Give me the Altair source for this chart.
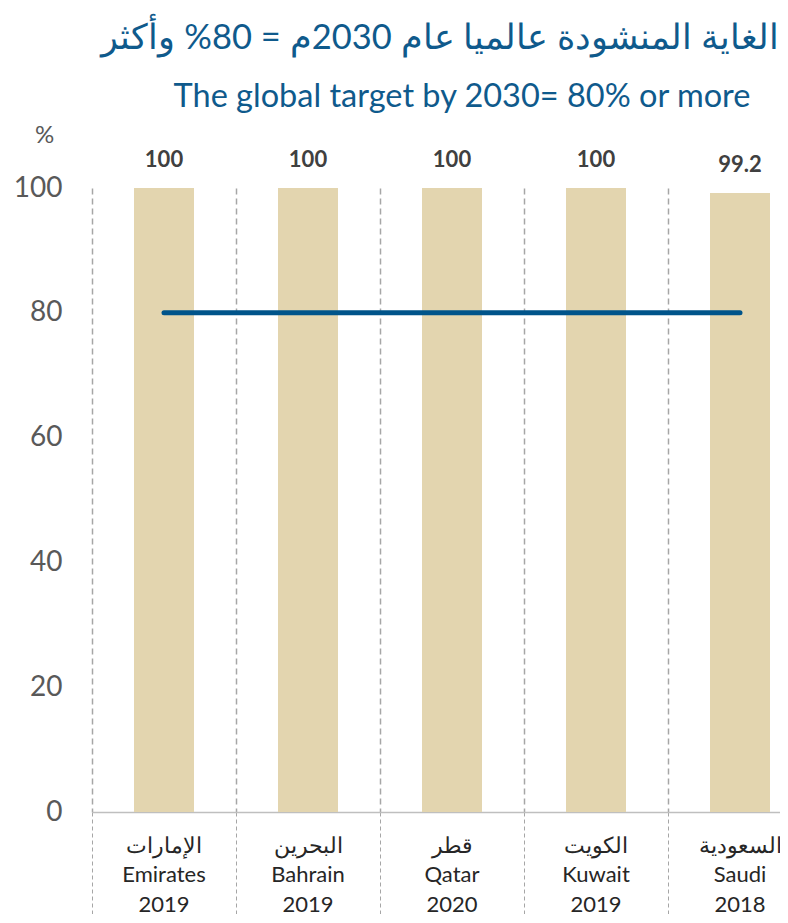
import altair as alt
import pandas as pd

ar_names = ["الإمارات", "البحرين", "قطر", "الكويت", "السعودية"]
en_names = ["Emirates", "Bahrain", "Qatar", "Kuwait", "Saudi"]
years = ["2019", "2019", "2020", "2019", "2018"]
values = [100, 100, 100, 100, 99.2]
target = [80, 80, 80, 80, 80]
y_ticks = [0, 20, 40, 60, 80, 100]
title_ar = "الغاية المنشودة عالميا عام 2030م = 80% وأكثر"
title_en = "The global target by 2030= 80% or more"

cats = [f"{a}|{e}|{y}" for a, e, y in zip(ar_names, en_names, years)]
df = pd.DataFrame({"cat": cats, "value": values, "target": target})
titles = pd.DataFrame({"ar": [title_ar], "en": [title_en]})

FONT = "Lato"

x = alt.X(
    "cat:N",
    sort=None,
    scale=alt.Scale(range=[0, 720], paddingInner=0, paddingOuter=0),
    axis=alt.Axis(
        title=None,
        bandPosition=0,
        grid=True,
        gridDash=[6, 4],
        gridColor="#A6A6A6",
        gridWidth=1.5,
        domainColor="#BFBFBF",
        domainWidth=1.5,
        ticks=True,
        tickSize=112,
        tickDash=[4, 3],
        tickColor="#A6A6A6",
        tickWidth=1,
        labelExpr="split(datum.label, '|')",
        labelAngle=0,
        labelFont=FONT,
        labelFontSize=22,
        labelColor="#262626",
        labelBaseline="top",
        labelLineHeight=29.5,
        labelPadding=-89,
        labelAlign="center",
    ),
)

y = alt.Y(
    "value:Q",
    scale=alt.Scale(domain=[0, 100], nice=False),
    axis=alt.Axis(
        values=y_ticks,
        title="%",
        titleAngle=0,
        titleX=-48,
        titleY=-53,
        titleAlign="center",
        titleBaseline="middle",
        titleFont=FONT,
        titleFontSize=24,
        titleFontWeight="normal",
        titleColor="#595959",
        grid=False,
        domain=False,
        ticks=False,
        tickSize=0,
        labelPadding=30,
        labelFont=FONT,
        labelFontSize=28,
        labelColor="#595959",
    ),
)

base = alt.Chart(df)

bars = base.mark_bar(size=60, color="#E3D5AF").encode(x=x, y=y)

labels = base.mark_text(
    font=FONT, fontSize=22, fontWeight="bold", color="#404040",
    baseline="alphabetic", dy=-21
).encode(x=alt.X("cat:N", sort=None), y="value:Q", text="value:Q")

line = base.mark_line(color="#00548A", strokeWidth=5, strokeCap="round").encode(
    x=alt.X("cat:N", sort=None), y="target:Q"
)

t_ar = alt.Chart(titles).mark_text(
    font=FONT, fontSize=34.5, color="#0F5A8C", align="right", baseline="middle"
).encode(x=alt.value(687), y=alt.value(-149), text="ar:N")

t_en = alt.Chart(titles).mark_text(
    font=FONT, fontSize=32.5, color="#0F5A8C", align="center", baseline="middle"
).encode(x=alt.value(370), y=alt.value(-91), text="en:N")

chart = alt.layer(bars, line, labels, t_ar, t_en).properties(
    width=688,
    height=624,
    autosize=alt.AutoSizeParams(type="none"),
    padding={"left": 84, "top": 180, "right": 0, "bottom": 102},
).configure_view(stroke=None)

chart.save("out.html", embed_options={"renderer": "svg", "actions": False})
